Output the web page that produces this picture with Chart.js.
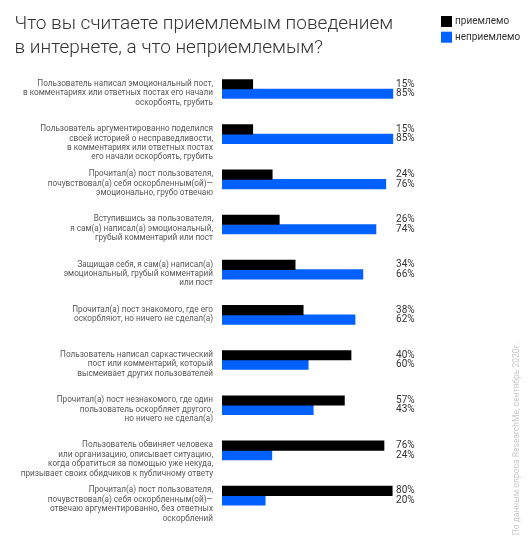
<!DOCTYPE html>
<html><head><meta charset="utf-8">
<script src="https://cdn.jsdelivr.net/npm/chart.js@4.4.1/dist/chart.umd.min.js"></script>
<style>html,body{margin:0;padding:0;background:#fff;} #wrap{width:528px;height:546px;position:relative;overflow:hidden}</style>
</head><body><div id="wrap"><canvas id="c" width="528" height="546"></canvas></div>
<script>
const categories = [
  ["Пользователь написал эмоциональный пост,", "в комментариях или ответных постах его начали", "оскорбоять, грубить"],
  ["Пользователь аргументированно поделился", "своей историей о несправедливости,", "в комментариях или ответных постах", "его начали оскорбоять, грубить"],
  ["Прочитал(а) пост пользователя,", "почувствовал(а) себя оскорбленным(ой)—", "эмоционально, грубо отвечаю"],
  ["Вступившись за пользователя,", "я сам(а) написал(а) эмоциональный,", "грубый комментарий или пост"],
  ["Защищая себя, я сам(а) написал(а)", "эмоциональный, грубый комментарий", "или пост"],
  ["Прочитал(а) пост знакомого, где его", "оскорбляют, но ничего не сделал(а)"],
  ["Пользователь написал саркастический", "пост или комментарий, который", "высмеивает других пользователей"],
  ["Прочитал(а) пост незнакомого, где один", "пользователь оскорбляет другого,", "но ничего не сделал(а)"],
  ["Пользователь обвиняет человека", "или организацию, описывает ситуацию,", "когда обратиться за помощью уже некуда,", "призывает своих обидчиков к публичному ответу"],
  ["Прочитал(а) пост пользователя,", "почувствовал(а) себя оскорбленным(ой)—", "отвечаю аргументированно, без ответных", "оскорблений"]
];
const seriesNames = ["приемлемо", "неприемлемо"];
// printed percentage labels
const acceptableLabels = [15, 15, 24, 26, 34, 38, 40, 57, 76, 80];
const unacceptableLabels = [85, 85, 76, 74, 66, 62, 60, 43, 24, 20];
// bar lengths as drawn in the picture (percent scale)
const acceptableBars = [15.3, 15.3, 25.0, 28.5, 36.4, 40.4, 64.2, 60.9, 80.6, 84.7];
const unacceptableBars = [85.0, 85.0, 81.5, 76.6, 70.1, 66.2, 42.9, 45.4, 24.8, 21.5];
const titleLines = ["Что вы считаете приемлемым поведением", "в интернете, а что неприемлемым?"];
const sourceNote = "По данным опроса ResearchMe, сентябрь 2020г.";

const colors = ["#000000", "#0061fe"];
const valueLabels = [acceptableLabels, unacceptableLabels];
const FONT = "Roboto";

function padLines(lines) {
  const out = lines.slice();
  while (out.length < 4) out.push("");
  return out;
}

const decor = {
  id: "decor",
  afterDraw(chart) {
    const ctx = chart.ctx;
    const xs = chart.scales.x;
    ctx.save();
    // title
    ctx.fillStyle = "#333333";
    ctx.font = "300 19px " + FONT;
    ctx.textAlign = "left";
    ctx.textBaseline = "alphabetic";
    ctx.fillText(titleLines[0], 14.5, 29.3);
    ctx.fillText(titleLines[1], 14.5, 53);
    // legend
    chart.data.datasets.forEach((ds, i) => {
      const y = 16 + i * 15.7;
      ctx.fillStyle = ds.backgroundColor;
      ctx.fillRect(441, y, 11, 11);
      ctx.fillStyle = "#333333";
      ctx.font = "10px " + FONT;
      ctx.textBaseline = "middle";
      ctx.fillText(ds.label, 455, y + 5.5);
    });
    // value labels
    ctx.font = "10px " + FONT;
    ctx.fillStyle = "#333333";
    ctx.textBaseline = "middle";
    ctx.textAlign = "left";
    const lx = xs.getPixelForValue(86.6);
    chart.data.datasets.forEach((ds, di) => {
      const meta = chart.getDatasetMeta(di);
      meta.data.forEach((bar, i) => {
        ctx.fillText(valueLabels[di][i] + "%", lx, bar.y);
      });
    });
    // source note
    ctx.translate(517, 439);
    ctx.rotate(-Math.PI / 2);
    ctx.textAlign = "center";
    ctx.fillStyle = "#c8c8c8";
    ctx.font = "8.5px " + FONT;
    ctx.fillText(sourceNote, 0, 0);
    ctx.restore();
  }
};

new Chart(document.getElementById("c"), {
  type: "bar",
  data: {
    labels: categories,
    datasets: [
      { label: seriesNames[0], data: acceptableBars, backgroundColor: colors[0], barThickness: 9.5 },
      { label: seriesNames[1], data: unacceptableBars, backgroundColor: colors[1], barThickness: 9.5 }
    ]
  },
  options: {
    indexAxis: "y",
    responsive: false,
    animation: false,
    layout: { padding: { top: 66.4, bottom: 21.6, left: 0, right: 105 } },
    scales: {
      x: { min: 0, max: 100, display: false },
      y: {
        grid: { display: false, drawTicks: false },
        border: { display: false },
        ticks: {
          padding: 9,
          labelOffset: 9,
          color: "#585858",
          font: { family: FONT, size: 8.2, lineHeight: 1.15 },
          callback: (v, i) => padLines(categories[i])
        },
        afterFit: (s) => { s.width = 222; }
      }
    },
    plugins: { legend: { display: false }, tooltip: { enabled: false }, title: { display: false } }
  },
  plugins: [decor]
});
</script>
</body></html>
